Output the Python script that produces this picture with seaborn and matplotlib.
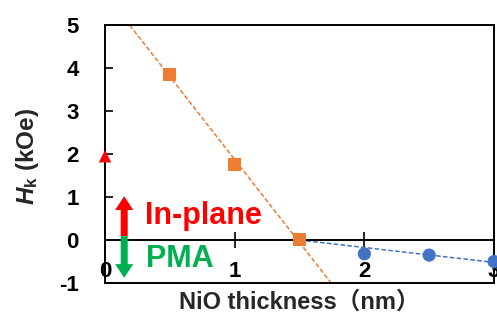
import numpy as np
import pandas as pd
import matplotlib
matplotlib.use("Agg")
import matplotlib.pyplot as plt
import seaborn as sns

# data
sq_x = [0.5, 1.0, 1.5]          # orange squares
sq_y = [3.85, 1.75, 0.02]
circ_x = [2.0, 2.5, 3.0]        # blue circles
circ_y = [-0.32, -0.35, -0.50]
tri_x = [0.0]                   # red triangle
tri_y = [1.95]
fit1_x = [0.19, 1.744]          # orange dashed fit
fit1_y = [5.0, -1.0]
fit2_x = [1.5, 3.0]             # blue dashed fit
fit2_y = [0.0, -0.52]
xticks = [0, 1, 2, 3]
yticks = [-1, 0, 1, 2, 3, 4, 5]

orange = "#ED7D31"
blue = "#4472C4"
red = "#FF0000"
green = "#00B050"

sns.set_style("white")
plt.rcParams['font.family'] = ['Liberation Sans', 'Noto Sans CJK JP', 'DejaVu Sans']
plt.rcParams['font.weight'] = 'bold'
plt.rcParams['mathtext.fontset'] = 'custom'
plt.rcParams['mathtext.it'] = 'Liberation Sans:italic:bold'
plt.rcParams['mathtext.rm'] = 'Liberation Sans:bold'

fig = plt.figure(figsize=(4.97, 3.22), dpi=100)
ax = fig.add_axes([0.2113, 0.121, 0.7827, 0.801])

# fit lines
sns.lineplot(x=fit1_x, y=fit1_y, ax=ax, color=orange, lw=1.1, zorder=2)
ax.lines[-1].set_dashes((3, 1.5))
sns.lineplot(x=fit2_x, y=fit2_y, ax=ax, color=blue, lw=1.1, zorder=2)
ax.lines[-1].set_dashes((3, 1.5))

# markers
sns.scatterplot(x=sq_x, y=sq_y, ax=ax, marker='s', s=85, color=orange,
                edgecolor='none', zorder=4)
sns.scatterplot(x=circ_x, y=circ_y, ax=ax, marker='o', s=90, color=blue,
                edgecolor='none', zorder=4, clip_on=False)
sns.scatterplot(x=tri_x, y=tri_y, ax=ax, marker='^', s=80, color=red,
                edgecolor='none', zorder=5, clip_on=False)

ax.set_xlim(0, 3)
ax.set_ylim(-1, 5)

# frame: x axis crosses at y=0, box around the plot
for s in ax.spines.values():
    s.set_linewidth(1.4)
    s.set_color('black')
ax.spines['bottom'].set_position(('data', 0))
ax.axhline(-1, color='black', lw=1.4, clip_on=False, zorder=6)

ax.set_xticks(xticks)
ax.set_yticks(yticks)
ax.set_xticklabels([str(v) for v in xticks])
ax.set_yticklabels([str(v) for v in yticks])
ax.tick_params(axis='x', direction='inout', length=11.5, width=1.2, pad=9.5,
               labelsize=16, bottom=True, colors='black')
ax.tick_params(axis='y', direction='in', length=5.8, width=1.2, pad=19,
               labelsize=16, left=True, colors='black')
for lab in ax.get_xticklabels() + ax.get_yticklabels():
    lab.set_fontweight('bold')

ax.set_xlabel("NiO thickness（nm）", fontsize=17, fontweight='bold')
ax.xaxis.set_label_coords(0.5, -0.03)
ax.set_ylabel(r"$H_\mathrm{k}$ (kOe)", fontsize=17.5, fontweight='bold')
ax.yaxis.set_label_coords(-0.165, 0.49)

# in-plane / PMA arrows
ax.arrow(0.148, 0.09, 0, 0.93, width=0.054, head_width=0.14, head_length=0.32,
         length_includes_head=True, color=red, lw=0, zorder=3)
ax.arrow(0.148, 0.09, 0, -0.97, width=0.054, head_width=0.14, head_length=0.32,
         length_includes_head=True, color=green, lw=0, zorder=3)
ax.text(0.31, 0.56, "In-plane", color=red, fontsize=22, fontweight='bold',
        va='center', ha='left')
ax.text(0.315, -0.45, "PMA", color=green, fontsize=22, fontweight='bold',
        va='center', ha='left')

fig.savefig("out.png", dpi=100)
